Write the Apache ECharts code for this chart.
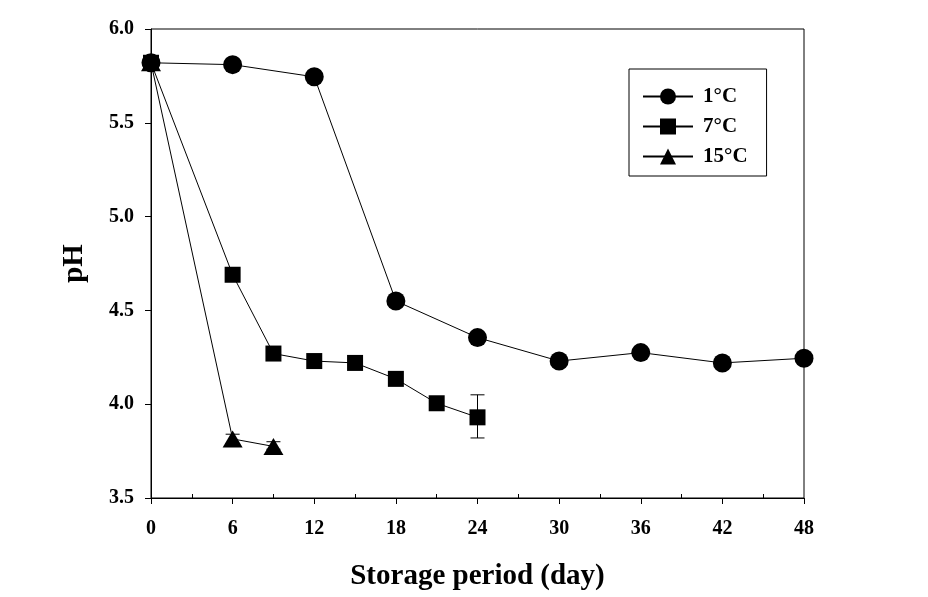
<!DOCTYPE html>
<html>
<head>
<meta charset="utf-8">
<script src="https://cdn.jsdelivr.net/npm/echarts@6/dist/echarts.min.js"></script>
<style>html,body{margin:0;padding:0;background:#fff;}#c{width:928px;height:597px;}</style>
</head>
<body>
<div id="c"></div>
<script>
// Data
const days1 = [0, 6, 12, 18, 24, 30, 36, 42, 48];
const ph1 = [5.82, 5.81, 5.745, 4.55, 4.355, 4.23, 4.275, 4.22, 4.245];
const days7 = [0, 6, 9, 12, 15, 18, 21, 24];
const ph7 = [5.82, 4.69, 4.27, 4.23, 4.22, 4.135, 4.005, 3.93];
const days15 = [0, 6, 9];
const ph15 = [5.82, 3.815, 3.775];
// error bars: [day, low, high]
const err7 = [[24, 3.82, 4.05]];
const err15 = [[6, 3.79, 3.84], [9, 3.76, 3.80]];
const xMajor = [0, 6, 12, 18, 24, 30, 36, 42, 48];
const xMinor = [3, 9, 15, 21, 27, 33, 39, 45];
const legendNames = ['1\u00b0C', '7\u00b0C', '15\u00b0C'];

const FONT = '"Liberation Serif", "DejaVu Serif", serif';
const chart = echarts.init(document.getElementById('c'));

function zip(xs, ys) { return xs.map((x, i) => [x, ys[i]]); }

function errRender(params, api) {
  const x = api.value(0);
  const p1 = api.coord([x, api.value(1)]);
  const p2 = api.coord([x, api.value(2)]);
  const w = 7;
  const style = { stroke: '#000', lineWidth: 1 };
  return {
    type: 'group',
    children: [
      { type: 'line', shape: { x1: p1[0], y1: p1[1], x2: p2[0], y2: p2[1] }, style },
      { type: 'line', shape: { x1: p1[0] - w, y1: p1[1], x2: p1[0] + w, y2: p1[1] }, style },
      { type: 'line', shape: { x1: p2[0] - w, y1: p2[1], x2: p2[0] + w, y2: p2[1] }, style }
    ]
  };
}

const option = {
  animation: false,
  backgroundColor: '#fff',
  grid: { left: 151, right: 124, top: 29, bottom: 99, show: true, borderColor: '#000', borderWidth: 1, backgroundColor: 'transparent' },
  legend: {
    orient: 'vertical',
    left: 629, top: 69,
    padding: [17, 19, 9, 13],
    itemWidth: 50, itemHeight: 20, itemGap: 9,
    borderColor: '#000', borderWidth: 1,
    backgroundColor: '#fff',
    textStyle: { fontFamily: FONT, fontWeight: 'bold', fontSize: 21, color: '#000', padding: [0, 0, 0, 5] },
    data: legendNames
  },
  xAxis: [{
    type: 'value', min: 0, max: 48, interval: 6,
    axisLine: { show: true, lineStyle: { color: '#000', width: 1 } },
    axisTick: { show: true, inside: false, length: 6, lineStyle: { color: '#000' } },
    axisLabel: { customValues: xMajor, margin: 21, fontFamily: FONT, fontWeight: 'bold', fontSize: 20, color: '#000' },
    splitLine: { show: false },
    name: 'Storage period (day)', nameLocation: 'middle', nameGap: 64,
    nameTextStyle: { fontFamily: FONT, fontWeight: 'bold', fontSize: 29, color: '#000' }
  }, {
    type: 'value', min: 0, max: 48, position: 'bottom', gridIndex: 0,
    axisLine: { show: false },
    axisTick: { show: true, inside: true, length: 4, customValues: xMinor, lineStyle: { color: '#000' } },
    axisLabel: { show: false },
    splitLine: { show: false }
  }],
  yAxis: {
    type: 'value', min: 3.5, max: 6.0, interval: 0.5,
    axisLine: { show: true, lineStyle: { color: '#000', width: 1 } },
    axisTick: { show: true, inside: false, length: 6, lineStyle: { color: '#000' } },
    axisLabel: { margin: 17, fontFamily: FONT, fontWeight: 'bold', fontSize: 20, color: '#000', formatter: v => v.toFixed(1) },
    splitLine: { show: false },
    name: 'pH', nameLocation: 'middle', nameGap: 62, nameRotate: 90,
    nameTextStyle: { fontFamily: FONT, fontWeight: 'bold', fontSize: 29, color: '#000' }
  },
  series: [
    {
      name: legendNames[0], type: 'line', data: zip(days1, ph1),
      symbol: 'circle', symbolSize: 19,
      lineStyle: { color: '#000', width: 1 }, itemStyle: { color: '#000' }, z: 3
    },
    {
      name: legendNames[1], type: 'line', data: zip(days7, ph7),
      symbol: 'rect', symbolSize: 16,
      lineStyle: { color: '#000', width: 1 }, itemStyle: { color: '#000' }, z: 3
    },
    {
      name: legendNames[2], type: 'line', data: zip(days15, ph15),
      symbol: 'triangle', symbolSize: [20, 17],
      lineStyle: { color: '#000', width: 1 }, itemStyle: { color: '#000' }, z: 3
    },
    {
      type: 'custom', renderItem: errRender, data: err7.concat(err15), z: 2,
      encode: { x: 0, y: [1, 2] }, silent: true
    }
  ]
};
chart.setOption(option);
</script>
</body>
</html>
